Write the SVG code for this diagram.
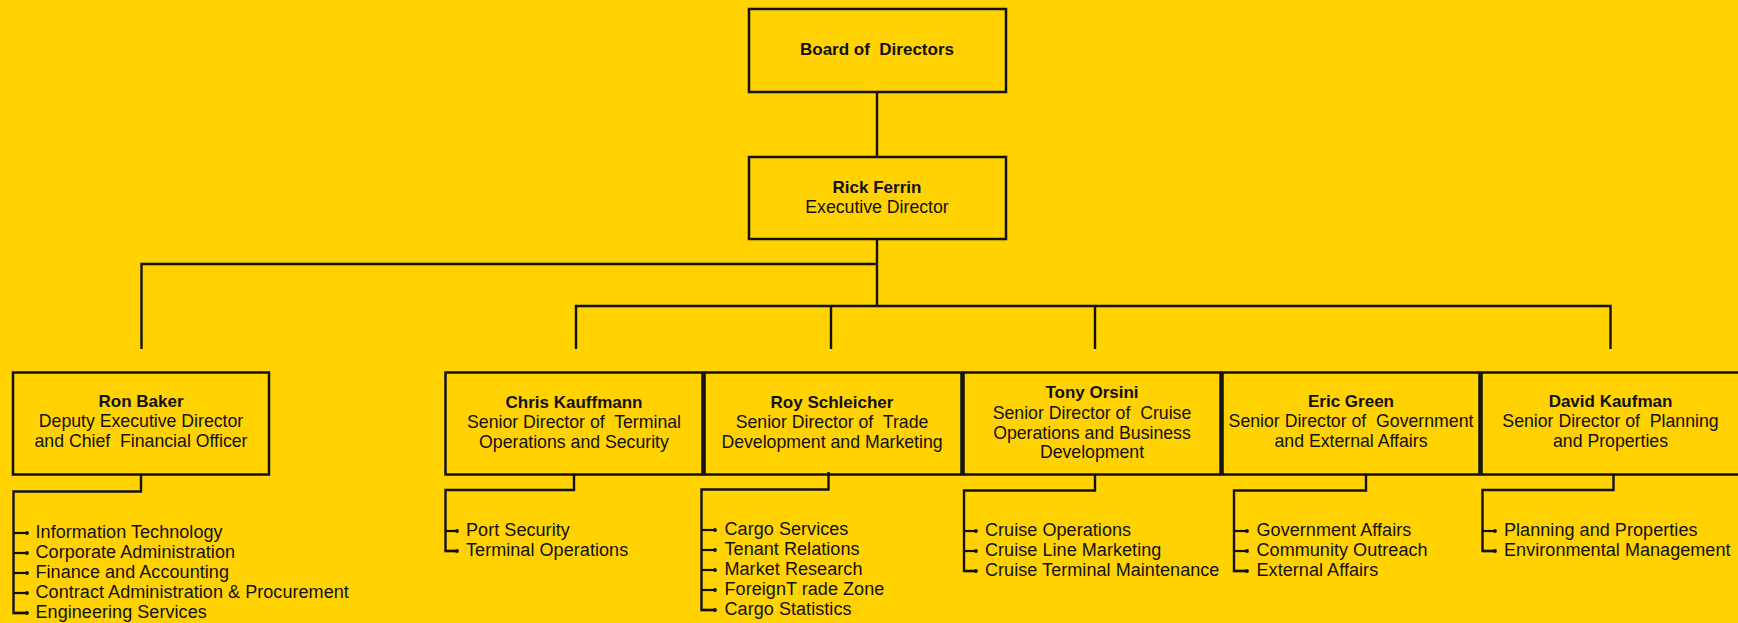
<svg xmlns="http://www.w3.org/2000/svg" width="1738" height="623" viewBox="0 0 1738 623">
<defs>
<style>
.box{fill:none;stroke:#111;stroke-width:2.5}
.ln{fill:none;stroke:#111;stroke-width:2.4}
.tk{fill:none;stroke:#111;stroke-width:2.2;marker-end:url(#dot)}
text{font-family:"Liberation Sans",Arial,sans-serif;fill:#111;white-space:pre}
.nm{font-weight:bold;font-size:17px;text-anchor:middle}
.tt{font-size:17.7px;text-anchor:middle}
.it{font-size:18px;letter-spacing:0.06px}
</style>
<marker id="dot" viewBox="0 0 4 4" refX="2" refY="2" markerWidth="4" markerHeight="4" markerUnits="userSpaceOnUse">
<circle cx="2" cy="2" r="1.9" fill="#111"/>
</marker>
</defs>
<rect width="1738" height="623" fill="#FFD200"/>

<g id="connectors">
<path class="ln" d="M877 92V157"/>
<path class="ln" d="M877 239V306M877 264H141.5V349"/>
<path class="ln" d="M576 349V306H1610.5V349M831 306V349M1095 306V349"/>
<path class="ln" d="M141 474.5V491.5H13.5V613H27"/>
<path class="tk" d="M13.5 533H27"/><path class="tk" d="M13.5 553H27"/><path class="tk" d="M13.5 573H27"/><path class="tk" d="M13.5 593H27"/><path class="tk" d="M13.5 613H27"/>
<path class="ln" d="M574 474.5V490H445.5V551H457"/>
<path class="tk" d="M445.5 531H457"/><path class="tk" d="M445.5 551H457"/>
<path class="ln" d="M828.5 472V489.5H701.5V610H715"/>
<path class="tk" d="M701.5 530H715"/><path class="tk" d="M701.5 550H715"/><path class="tk" d="M701.5 570H715"/><path class="tk" d="M701.5 590H715"/><path class="tk" d="M701.5 610H715"/>
<path class="ln" d="M1095 474.5V490.5H964V571H976"/>
<path class="tk" d="M964 531H976"/><path class="tk" d="M964 551H976"/><path class="tk" d="M964 571H976"/>
<path class="ln" d="M1366 474.5V490.5H1234V571H1247"/>
<path class="tk" d="M1234 531H1247"/><path class="tk" d="M1234 551H1247"/><path class="tk" d="M1234 571H1247"/>
<path class="ln" d="M1613.5 474.5V490H1482.5V551H1495"/>
<path class="tk" d="M1482.5 531H1495"/><path class="tk" d="M1482.5 551H1495"/>
</g>

<g id="board">
<rect class="box" x="749" y="9" width="257" height="83"/>
<text class="nm" x="877" y="55">Board of  Directors</text>
</g>

<g id="rick">
<rect class="box" x="749" y="157" width="257" height="82"/>
<text class="nm" x="877" y="192.5">Rick Ferrin</text>
<text class="tt" x="877" y="212.5">Executive Director</text>
</g>

<g id="ron">
<rect class="box" x="13" y="372.5" width="256" height="102"/>
<text class="nm" x="141" y="407">Ron Baker</text>
<text class="tt" x="141" y="427">Deputy Executive Director</text>
<text class="tt" x="141" y="447">and Chief  Financial Officer</text>
<text class="it" x="35.5" y="538">Information Technology</text>
<text class="it" x="35.5" y="558">Corporate Administration</text>
<text class="it" x="35.5" y="578">Finance and Accounting</text>
<text class="it" x="35.5" y="598">Contract Administration &amp; Procurement</text>
<text class="it" x="35.5" y="618">Engineering Services</text>
</g>

<g id="chris">
<rect class="box" x="445.5" y="372.5" width="257" height="102"/>
<text class="nm" x="574" y="407.5">Chris Kauffmann</text>
<text class="tt" x="574" y="427.5">Senior Director of  Terminal</text>
<text class="tt" x="574" y="447.5">Operations and Security</text>
<text class="it" x="466" y="536">Port Security</text>
<text class="it" x="466" y="556">Terminal Operations</text>
</g>

<g id="roy">
<rect class="box" x="704.5" y="372.5" width="257" height="102"/>
<text class="nm" x="832" y="408">Roy Schleicher</text>
<text class="tt" x="832" y="428">Senior Director of  Trade</text>
<text class="tt" x="832" y="448">Development and Marketing</text>
<text class="it" x="724.5" y="535">Cargo Services</text>
<text class="it" x="724.5" y="555">Tenant Relations</text>
<text class="it" x="724.5" y="575">Market Research</text>
<text class="it" x="724.5" y="595">ForeignT rade Zone</text>
<text class="it" x="724.5" y="615">Cargo Statistics</text>
</g>

<g id="tony">
<rect class="box" x="963.5" y="372.5" width="257" height="102"/>
<text class="nm" x="1092" y="398">Tony Orsini</text>
<text class="tt" x="1092" y="418.5">Senior Director of  Cruise</text>
<text class="tt" x="1092" y="438.5">Operations and Business</text>
<text class="tt" x="1092" y="458">Development</text>
<text class="it" x="985" y="536">Cruise Operations</text>
<text class="it" x="985" y="556">Cruise Line Marketing</text>
<text class="it" x="985" y="576">Cruise Terminal Maintenance</text>
</g>

<g id="eric">
<rect class="box" x="1222.5" y="372.5" width="257" height="102"/>
<text class="nm" x="1351" y="407">Eric Green</text>
<text class="tt" x="1351" y="427">Senior Director of  Government</text>
<text class="tt" x="1351" y="447">and External Affairs</text>
<text class="it" x="1256.5" y="536">Government Affairs</text>
<text class="it" x="1256.5" y="556">Community Outreach</text>
<text class="it" x="1256.5" y="576">External Affairs</text>
</g>

<g id="david">
<rect class="box" x="1481.5" y="372.5" width="258" height="102"/>
<text class="nm" x="1610.5" y="406.5">David Kaufman</text>
<text class="tt" x="1610.5" y="427">Senior Director of  Planning</text>
<text class="tt" x="1610.5" y="446.5">and Properties</text>
<text class="it" x="1504" y="536">Planning and Properties</text>
<text class="it" x="1504" y="556">Environmental Management</text>
</g>
</svg>
